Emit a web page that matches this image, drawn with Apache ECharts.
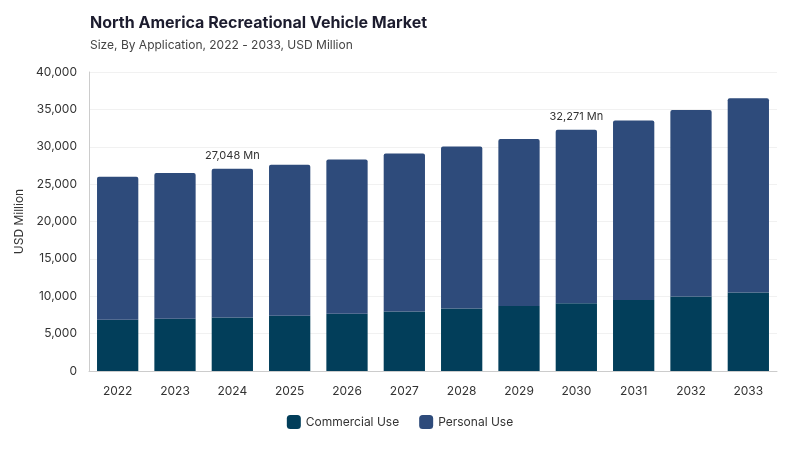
<!DOCTYPE html>
<html>
<head>
<meta charset="utf-8">
<script src="https://cdn.jsdelivr.net/npm/echarts@6/dist/echarts.min.js"></script>
<style>
  html, body { margin: 0; padding: 0; background: #fff; }
  #chart { width: 800px; height: 450px; }
</style>
</head>
<body>
<div id="chart"></div>
<script>
// data
const years = ['2022', '2023', '2024', '2025', '2026', '2027', '2028', '2029', '2030', '2031', '2032', '2033'];
const commercialUse = [6850, 7000, 7150, 7400, 7650, 7950, 8350, 8700, 9050, 9500, 9950, 10500];
const personalUse = [19150, 19500, 19898, 20200, 20650, 21150, 21700, 22350, 23221, 24000, 24950, 26000];
const labelledYears = ['2024', '2030'];

const chart = echarts.init(document.getElementById('chart'));
const font = 'Inter, "Noto Sans", sans-serif';

chart.setOption({
  animation: false,
  textStyle: { fontFamily: font },
  title: {
    text: 'North America Recreational Vehicle Market',
    subtext: 'Size, By Application, 2022 - 2033, USD Million',
    left: 85,
    top: 10,
    itemGap: 8,
    textStyle: { fontSize: 16, fontWeight: 'bold', color: '#1c1c2e', fontFamily: font },
    subtextStyle: { fontSize: 12, color: '#444', fontFamily: font }
  },
  legend: {
    bottom: 16,
    left: 'center',
    itemWidth: 14,
    itemHeight: 14,
    itemGap: 20,
    icon: 'roundRect',
    textStyle: { fontSize: 12, color: '#333', fontFamily: font },
    data: ['Commercial Use', 'Personal Use']
  },
  grid: { left: 89, right: 23, top: 72, bottom: 79 },
  xAxis: {
    type: 'category',
    data: years,
    axisLine: { lineStyle: { color: '#ccc' } },
    axisTick: { show: false },
    axisLabel: { color: '#333', fontSize: 12, margin: 14 }
  },
  yAxis: {
    type: 'value',
    min: 0,
    max: 40000,
    interval: 5000,
    name: 'USD Million',
    nameLocation: 'middle',
    nameGap: 60,
    nameTextStyle: { color: '#333', fontSize: 12 },
    axisLine: { show: true, lineStyle: { color: '#ccc' } },
    axisLabel: {
      color: '#333',
      fontSize: 12,
      margin: 12,
      formatter: v => v.toLocaleString('en-US')
    },
    splitLine: { lineStyle: { color: '#f1f1f1' } }
  },
  series: [
    {
      name: 'Commercial Use',
      type: 'bar',
      stack: 'total',
      barWidth: '72%',
      itemStyle: { color: '#023e5a' },
      data: commercialUse
    },
    {
      name: 'Personal Use',
      type: 'bar',
      stack: 'total',
      itemStyle: { color: '#2e4b7b', borderRadius: [2, 2, 0, 0] },
      label: {
        show: true,
        position: 'top',
        distance: 8,
        color: '#333',
        fontSize: 11,
        formatter: p => {
          if (labelledYears.indexOf(p.name) < 0) return '';
          const total = p.value + commercialUse[p.dataIndex];
          return total.toLocaleString('en-US') + ' Mn';
        }
      },
      data: personalUse
    }
  ]
});
</script>
</body>
</html>
